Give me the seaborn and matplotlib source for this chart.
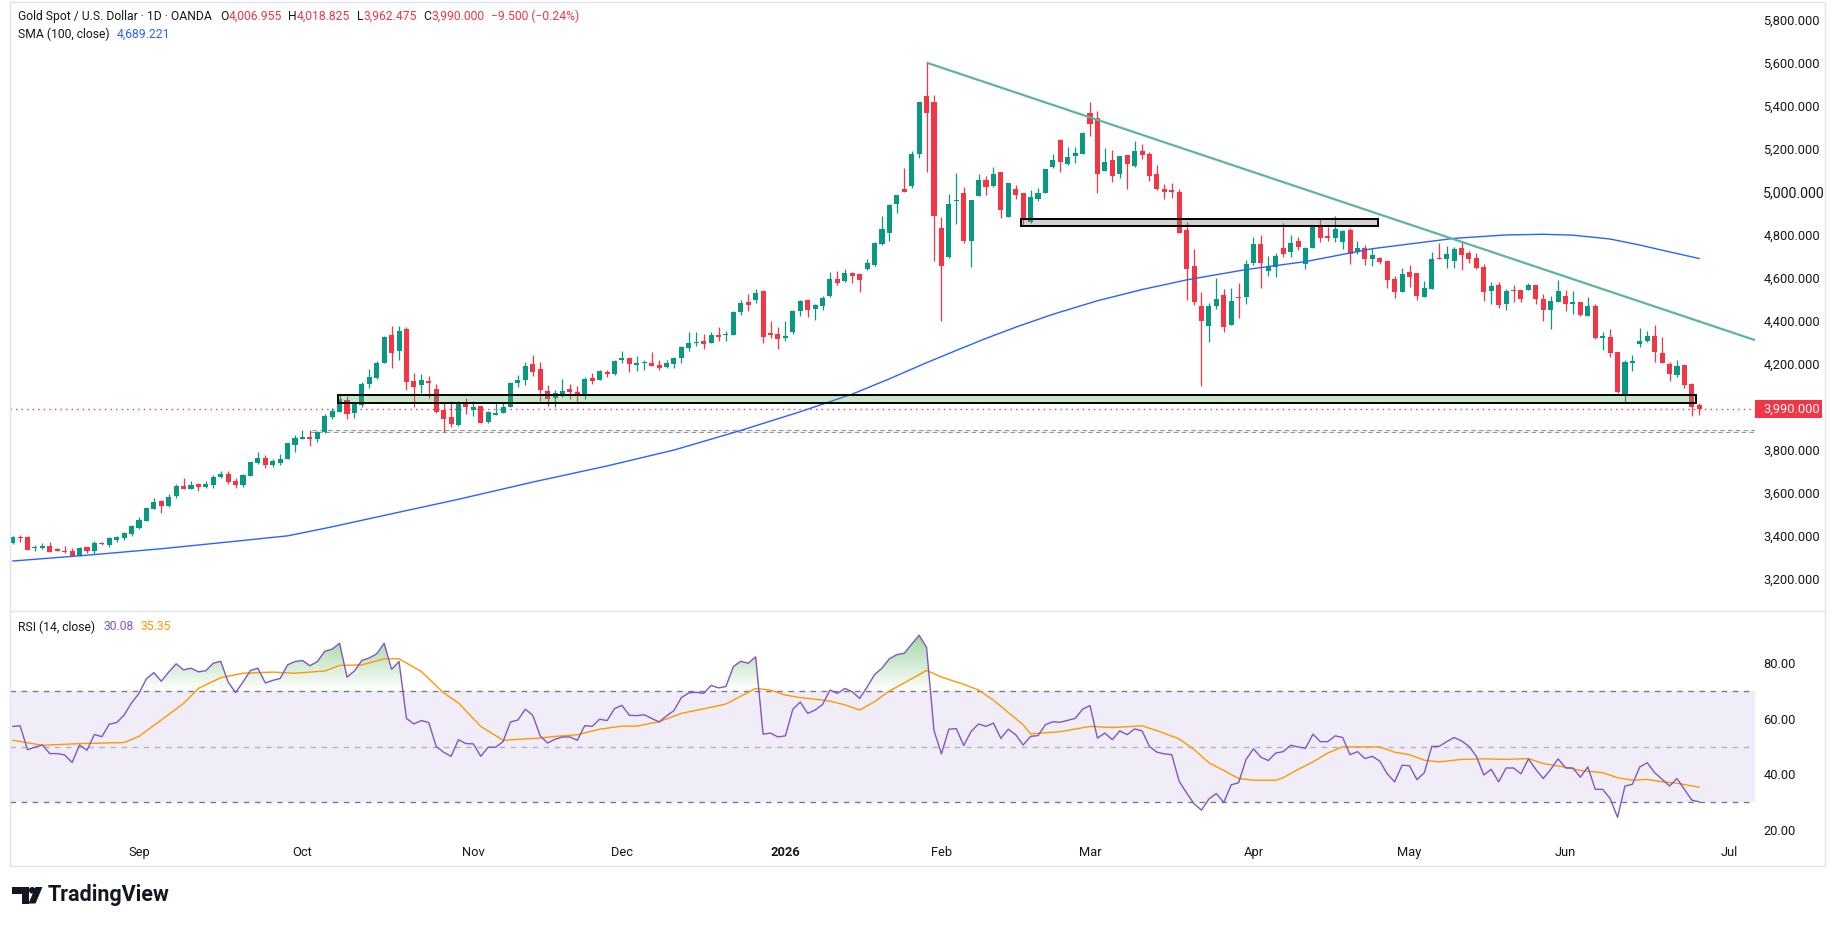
import numpy as np
import pandas as pd
import matplotlib.pyplot as plt
import seaborn as sns
from matplotlib.patches import Rectangle, PathPatch, Circle, Polygon
from matplotlib.path import Path
from matplotlib.transforms import blended_transform_factory

sns.set_theme(style='white')
plt.rcParams['font.family'] = ['Roboto', 'DejaVu Sans']

# 日线K线
opens = [
    3365, 3393, 3394, 3342, 3343, 3353, 3336, 3329, 3329, 3308,
    3348, 3331, 3368, 3357, 3380, 3388, 3408, 3436, 3470, 3526,
    3560, 3539, 3585, 3632, 3618, 3641, 3628, 3636, 3673, 3687,
    3655, 3636, 3680, 3737, 3762, 3729, 3739, 3759, 3824, 3852,
    3861, 3852, 3884, 3952, 3977, 4032, 3973, 4010, 4107, 4135,
    4205, 4334, 4261, 4362, 4120, 4103, 4120, 4083, 3985, 3952,
    3915, 4021, 3985, 4004, 3931, 3963, 3973, 4000, 4112, 4126,
    4199, 4176, 4073, 4042, 4059, 4083, 4069, 4059, 4134, 4124,
    4163, 4152, 4217, 4228, 4196, 4202, 4204, 4194, 4187, 4200,
    4225, 4275, 4295, 4306, 4298, 4334, 4332, 4335, 4442, 4487,
    4498, 4538, 4338, 4338, 4321, 4349, 4447, 4496, 4456, 4470,
    4517, 4594, 4586, 4622, 4617, 4642, 4661, 4758, 4809, 4944,
    5011, 5028, 5175, 5445, 5419, 4830, 4696, 4955, 4992, 4772,
    4981, 5054, 5026, 5091, 4884, 5011, 4995, 4860, 4966, 4995,
    5113, 5240, 5129, 5166, 5175, 5367, 5344, 5098, 5147, 5082,
    5171, 5119, 5191, 5175, 5082, 5012, 5008, 5000, 4822, 4654,
    4469, 4375, 4469, 4520, 4380, 4509, 4512, 4670, 4757, 4633,
    4648, 4737, 4721, 4771, 4664, 4738, 4845, 4794, 4786, 4766,
    4822, 4721, 4737, 4687, 4693, 4678, 4594, 4535, 4627, 4622,
    4512, 4546, 4690, 4687, 4679, 4738, 4715, 4692, 4651, 4540,
    4566, 4479, 4541, 4543, 4543, 4566, 4501, 4450, 4489, 4515,
    4479, 4489, 4424, 4470, 4322, 4323, 4256, 4055, 4202, 4292,
    4306, 4329, 4252, 4199, 4148, 4193, 4106, 4006.955,
]
highs = [
    3400, 3404, 3399, 3357, 3365, 3371, 3345, 3353, 3345, 3348,
    3348, 3377, 3373, 3394, 3399, 3418, 3450, 3486, 3534, 3576,
    3565, 3594, 3641, 3669, 3655, 3646, 3653, 3681, 3701, 3700,
    3667, 3686, 3745, 3790, 3774, 3756, 3779, 3833, 3867, 3892,
    3892, 3887, 3966, 3993, 4053, 4052, 4021, 4115, 4174, 4213,
    4331, 4376, 4376, 4369, 4155, 4152, 4143, 4106, 4019, 4027,
    4027, 4039, 4027, 4004, 3980, 4021, 4022, 4117, 4146, 4208,
    4241, 4208, 4100, 4078, 4129, 4106, 4097, 4137, 4157, 4171,
    4171, 4217, 4259, 4233, 4236, 4217, 4256, 4217, 4217, 4230,
    4283, 4348, 4348, 4337, 4347, 4371, 4354, 4445, 4496, 4524,
    4547, 4543, 4399, 4371, 4399, 4450, 4496, 4500, 4478, 4515,
    4626, 4631, 4640, 4625, 4620, 4687, 4765, 4887, 4941, 4985,
    5112, 5191, 5418, 5600, 5450, 4884, 4989, 5085, 5023, 4961,
    5082, 5073, 5116, 5091, 5042, 5031, 4995, 5008, 5016, 5105,
    5175, 5243, 5209, 5209, 5279, 5418, 5375, 5205, 5194, 5166,
    5171, 5236, 5220, 5186, 5124, 5036, 5039, 5011, 4861, 4732,
    4535, 4481, 4597, 4546, 4551, 4574, 4682, 4788, 4799, 4701,
    4717, 4853, 4799, 4788, 4744, 4840, 4871, 4837, 4887, 4822,
    4830, 4771, 4752, 4737, 4698, 4678, 4608, 4647, 4659, 4622,
    4585, 4720, 4763, 4747, 4744, 4772, 4724, 4716, 4664, 4582,
    4582, 4547, 4566, 4543, 4577, 4566, 4524, 4517, 4589, 4543,
    4538, 4489, 4509, 4478, 4349, 4362, 4256, 4217, 4241, 4365,
    4354, 4380, 4323, 4210, 4217, 4194, 4109, 4018.825,
]
lows = [
    3362, 3373, 3334, 3331, 3339, 3325, 3329, 3318, 3306, 3306,
    3320, 3315, 3357, 3350, 3373, 3382, 3401, 3432, 3467, 3523,
    3508, 3534, 3576, 3618, 3618, 3608, 3624, 3624, 3669, 3642,
    3624, 3628, 3678, 3734, 3717, 3722, 3731, 3757, 3790, 3852,
    3819, 3838, 3880, 3942, 3974, 3942, 3946, 4000, 4089, 4131,
    4202, 4182, 4217, 4078, 3999, 4066, 4042, 3969, 3883, 3907,
    3912, 3966, 3959, 3926, 3926, 3963, 3973, 4000, 4093, 4101,
    4143, 4028, 4005, 3997, 4047, 4036, 4021, 4036, 4106, 4124,
    4138, 4149, 4202, 4163, 4166, 4172, 4191, 4171, 4179, 4179,
    4202, 4261, 4283, 4270, 4295, 4307, 4307, 4332, 4428, 4447,
    4484, 4298, 4321, 4270, 4307, 4340, 4423, 4419, 4405, 4451,
    4510, 4568, 4580, 4577, 4535, 4635, 4656, 4750, 4772, 4899,
    4999, 5016, 5155, 5093, 4679, 4400, 4693, 4848, 4760, 4651,
    4981, 4985, 5020, 4876, 4884, 4964, 4840, 4855, 4958, 4995,
    5108, 5093, 5124, 5132, 5175, 5259, 4992, 5098, 5047, 5062,
    5011, 5116, 5150, 5051, 5008, 4966, 4969, 4806, 4496, 4473,
    4098, 4303, 4453, 4349, 4380, 4414, 4478, 4659, 4554, 4608,
    4605, 4698, 4698, 4729, 4641, 4738, 4768, 4772, 4768, 4732,
    4664, 4710, 4659, 4655, 4664, 4554, 4507, 4535, 4558, 4496,
    4512, 4546, 4687, 4647, 4647, 4636, 4667, 4641, 4493, 4478,
    4461, 4450, 4489, 4489, 4543, 4478, 4400, 4362, 4487, 4447,
    4431, 4424, 4424, 4314, 4264, 4233, 4066, 4024, 4168, 4279,
    4303, 4210, 4202, 4121, 4140, 4089, 3959, 3962.475,
]
closes = [
    3396, 3390, 3336, 3345, 3354, 3326, 3331, 3325, 3308, 3343,
    3331, 3367, 3362, 3390, 3394, 3413, 3446, 3474, 3529, 3557,
    3539, 3580, 3630, 3619, 3635, 3628, 3641, 3673, 3687, 3650,
    3636, 3681, 3742, 3762, 3731, 3746, 3757, 3832, 3855, 3861,
    3852, 3884, 3957, 3980, 4036, 3966, 4013, 4106, 4138, 4205,
    4326, 4248, 4352, 4117, 4094, 4124, 4109, 3977, 3945, 3921,
    4022, 3997, 3997, 3926, 3977, 3971, 3999, 4112, 4126, 4191,
    4163, 4078, 4036, 4062, 4073, 4069, 4055, 4129, 4120, 4165,
    4154, 4213, 4228, 4200, 4199, 4207, 4191, 4180, 4204, 4225,
    4278, 4297, 4303, 4292, 4334, 4324, 4335, 4441, 4482, 4473,
    4529, 4326, 4335, 4316, 4329, 4445, 4492, 4451, 4473, 4506,
    4594, 4577, 4622, 4610, 4591, 4668, 4761, 4826, 4937, 4985,
    5000, 5175, 5415, 5364, 4888, 4656, 4943, 4960, 4771, 4961,
    5054, 5020, 5082, 4915, 5042, 4985, 4868, 4975, 4992, 5105,
    5147, 5140, 5163, 5178, 5274, 5315, 5082, 5140, 5073, 5166,
    5129, 5191, 5171, 5073, 5012, 5000, 5000, 4806, 4640, 4489,
    4400, 4469, 4500, 4372, 4493, 4505, 4664, 4757, 4670, 4648,
    4701, 4710, 4760, 4744, 4738, 4840, 4786, 4786, 4825, 4817,
    4710, 4738, 4687, 4706, 4673, 4589, 4535, 4617, 4605, 4517,
    4554, 4687, 4687, 4710, 4734, 4707, 4685, 4645, 4535, 4561,
    4473, 4538, 4538, 4503, 4566, 4503, 4450, 4492, 4538, 4479,
    4481, 4427, 4470, 4318, 4325, 4252, 4070, 4207, 4214, 4306,
    4329, 4256, 4202, 4152, 4190, 4101, 3999.5, 3990.0,
]

# SMA(100) 读数 (K线序号, 数值)
sma_idx = [0, 10, 20, 30, 37, 43, 50, 60, 70, 80, 89, 98, 106, 113, 118, 123,
           127, 131, 135, 140, 146, 152, 158, 166, 174, 183, 194, 201, 206, 210,
           215, 219, 222, 227]
sma_val = [3283, 3310, 3340, 3375, 3400, 3442, 3495, 3570, 3650, 3725, 3799, 3890,
           3977, 4059, 4130, 4205, 4262, 4318, 4370, 4430, 4493, 4545, 4590, 4638,
           4675, 4735, 4783, 4799, 4802, 4798, 4780, 4752, 4728, 4689.221]

# RSI(14)
rsi = [
    57.3, 57.5, 48.9, 49.8, 50.6, 47.5, 47.5, 47.0, 44.3, 50.6,
    48.7, 54.4, 53.6, 58.1, 58.7, 61.4, 65.8, 69.2, 74.5, 76.7,
    73.6, 76.9, 79.9, 77.7, 78.3, 77.0, 77.4, 80.1, 80.8, 73.3,
    69.5, 73.3, 77.5, 78.3, 73.0, 73.9, 74.6, 79.5, 80.7, 81.1,
    79.2, 80.7, 84.4, 85.2, 87.3, 75.1, 77.3, 81.1, 82.0, 83.5,
    87.3, 77.9, 80.7, 60.2, 58.2, 59.4, 58.7, 50.1, 48.0, 46.5,
    52.5, 51.1, 51.0, 46.5, 49.8, 49.8, 51.8, 58.9, 59.6, 63.5,
    61.3, 53.9, 51.3, 52.7, 53.5, 53.5, 52.3, 57.6, 57.3, 59.9,
    59.4, 63.7, 64.9, 61.3, 61.2, 61.5, 60.2, 58.9, 61.1, 63.0,
    67.7, 69.4, 69.6, 69.2, 72.1, 71.2, 71.7, 78.9, 80.8, 80.1,
    82.4, 54.5, 54.9, 53.5, 53.9, 63.5, 66.1, 62.0, 63.2, 65.2,
    70.4, 69.2, 71.0, 69.8, 67.4, 71.5, 76.0, 78.3, 81.7, 83.2,
    83.7, 87.0, 90.2, 85.8, 55.8, 47.4, 56.3, 56.5, 50.4, 55.5,
    58.2, 57.3, 58.5, 53.0, 56.3, 54.3, 50.6, 53.7, 54.0, 57.9,
    59.0, 58.8, 59.5, 60.2, 63.5, 64.8, 53.1, 54.9, 52.5, 55.7,
    54.3, 56.4, 55.7, 50.1, 48.0, 47.4, 47.1, 37.5, 33.3, 29.4,
    27.1, 31.1, 33.1, 29.9, 36.2, 37.0, 45.4, 49.2, 46.2, 45.0,
    47.7, 48.2, 50.5, 49.9, 49.4, 54.5, 51.8, 51.8, 53.9, 53.3,
    47.1, 48.2, 45.7, 46.5, 44.8, 40.2, 37.3, 43.3, 43.1, 38.1,
    40.6, 50.1, 50.1, 51.8, 53.3, 52.1, 50.1, 46.5, 39.8, 41.8,
    37.3, 42.3, 42.3, 40.2, 45.6, 41.8, 38.5, 41.8, 45.6, 42.3,
    42.3, 39.0, 42.7, 34.6, 34.6, 31.3, 24.5, 35.8, 36.4, 42.7,
    44.2, 40.6, 38.2, 35.8, 38.5, 34.6, 30.7, 30.08,
]
# RSI 均线读数
rsi_ma_idx = [0, 4, 9, 15, 17, 20, 23, 25, 28, 31, 35, 38, 42, 44, 47, 50, 52, 55, 58, 60,
              63, 66, 71, 73, 76, 79, 82, 84, 87, 90, 94, 96, 98, 100, 102, 104, 106, 109, 110, 112,
              114, 116, 118, 120, 123, 125, 128, 130, 132, 134, 136, 137, 141, 145, 148, 152, 154, 157, 159, 161,
              163, 165, 167, 170, 171, 173, 175, 177, 179, 181, 184, 186, 188, 190, 192, 195, 198, 201, 204, 206,
              209, 211, 214, 216, 218, 220, 222, 224, 227]
rsi_ma = [52.3, 50.5, 51.1, 51.5, 53.7, 59.6, 65.6, 71.0, 74.9, 76.5, 76.9, 76.5, 77.3, 79.3, 79.5, 81.7, 81.7, 77.1, 69.4, 65.8,
          57.3, 52.3, 53.1, 53.7, 54.3, 56.3, 57.4, 57.4, 59.0, 62.0, 64.2, 65.4, 68.2, 71.0, 70.4, 68.6, 67.7, 66.8, 66.4, 65.1,
          63.2, 66.2, 70.1, 73.0, 77.5, 75.1, 72.5, 70.4, 66.8, 62.3, 57.9, 54.6, 55.4, 57.3, 56.9, 57.5, 55.8, 52.8, 49.0, 44.2,
          41.4, 38.5, 37.9, 37.9, 38.8, 41.8, 44.5, 47.7, 49.9, 49.9, 49.9, 48.0, 47.1, 45.1, 44.5, 45.4, 45.6, 45.4, 45.7, 43.9,
          42.6, 41.4, 40.6, 38.8, 37.9, 38.2, 37.3, 36.8, 35.35]

# 画线工具
trend_end = (234.5, 4310)
grey_zone = (135.7, 183.7, 4839, 4872)
green_zone = (43.8, 226.6, 4019, 4053)
dash_zone = (40.0, 234.5, 3881, 3892)

holidays = ['2025-12-25', '2026-01-01', '2026-04-03']
days = pd.bdate_range('2025-08-07', '2026-07-01')
days = days[~days.isin(pd.to_datetime(holidays))]

o, h, l, c = map(np.array, (opens, highs, lows, closes))
n = len(c)
x = np.arange(n)

W, H = 1835, 926
fig = plt.figure(figsize=(W / 100, H / 100), dpi=100)
fig.patch.set_facecolor('white')


def frect(x0, y0, x1, y1):
    return [x0 / W, 1 - y1 / H, (x1 - x0) / W, (y1 - y0) / H]


ax_p = fig.add_axes(frect(10, 6, 1755, 610))
ax_r = fig.add_axes(frect(10, 611, 1755, 842))
ov = fig.add_axes([0, 0, 1, 1], zorder=10)
ov.set_xlim(0, W)
ov.set_ylim(H, 0)
ov.axis('off')
ov.patch.set_alpha(0)

UP, DN, INK = '#089981', '#f23645', '#131722'
XLIM = (-0.36, 234.5)

# ---- 价格区 ----
cols = np.where(c >= o, UP, DN)
ax_p.vlines(x, l, h, colors=cols, lw=0.9, zorder=3)
ax_p.bar(x, np.maximum(np.abs(c - o), 6), bottom=np.minimum(o, c), width=0.68,
         color=cols, linewidth=0, zorder=3)

sns.lineplot(x=sma_idx, y=sma_val, ax=ax_p, color='#2962ff', linewidth=1.0,
             estimator=None, zorder=4)

peak = int(np.argmax(h))
ax_p.plot([peak, trend_end[0]], [h[peak], trend_end[1]], color='#5cb5a0', lw=1.6,
          solid_capstyle='butt', zorder=6)

gx0, gx1, gy0, gy1 = grey_zone
ax_p.add_patch(Rectangle((gx0, gy0), gx1 - gx0, gy1 - gy0, fc=(0.5, 0.5, 0.5, 0.35),
                         ec='black', lw=1.4, zorder=5))
gx0, gx1, gy0, gy1 = green_zone
ax_p.add_patch(Rectangle((gx0, gy0), gx1 - gx0, gy1 - gy0, fc=(76 / 255, 175 / 255, 80 / 255, 0.3),
                         ec='black', lw=1.4, zorder=5))
gx0, gx1, gy0, gy1 = dash_zone
ax_p.add_patch(Rectangle((gx0, gy0), gx1 - gx0, gy1 - gy0, fc=(76 / 255, 175 / 255, 80 / 255, 0.08),
                         ec='#9598a1', lw=0.8, ls=(0, (4, 3)), zorder=2))

ax_p.axhline(c[-1], color=DN, lw=1.0, ls=(0, (1, 3)), zorder=2)

ax_p.set_xlim(*XLIM)
ax_p.set_ylim(3055.3, 5863.3)
ax_p.set_xticks([])
ax_p.yaxis.tick_right()
pticks = np.arange(3200, 5801, 200)
ax_p.set_yticks(pticks)
ax_p.set_yticklabels([f'{v:,.3f}' for v in pticks])
ax_p.tick_params(axis='y', length=0, pad=6, labelsize=9.3, labelcolor=INK)
for lab in ax_p.get_yticklabels():
    if lab.get_text() == '5,000.000':
        lab.set_fontsize(10.2)
ax_p.set_xlabel('')
ax_p.set_ylabel('')

# 最新价标签
bt = blended_transform_factory(ax_p.transAxes, ax_p.transData)
ax_p.add_patch(Rectangle((1.0, c[-1] - 40), 67 / 1745, 80, transform=bt, fc=DN, ec='none',
                         clip_on=False, zorder=7))
ax_p.text(1.0046, c[-1], f'{c[-1]:,.3f}', transform=bt, color='white', fontsize=9.3,
          va='center', ha='left', clip_on=False, zorder=8)

# ---- RSI 区 ----
ax_r.axhspan(30, 70, color='#7e57c2', alpha=0.1, lw=0, zorder=0)
for lvl, a in ((70, 1.0), (50, 0.5), (30, 1.0)):
    ax_r.axhline(lvl, color='#787b86', lw=1.0, ls=(0, (4, 4)), alpha=a, zorder=1)

r = np.array(rsi)
fb = ax_r.fill_between(x, r, 70, where=r >= 70, interpolate=True, facecolor='none',
                       edgecolor='none')
paths = fb.get_paths()
if paths:
    clip = PathPatch(Path.make_compound_path(*paths), transform=ax_r.transData,
                     facecolor='none', edgecolor='none')
    ax_r.add_patch(clip)
    grad = np.zeros((256, 1, 4))
    grad[..., 0], grad[..., 1], grad[..., 2] = 76 / 255, 175 / 255, 80 / 255
    grad[:, 0, 3] = np.linspace(0.0, 0.6, 256)
    im = ax_r.imshow(grad, extent=[XLIM[0], XLIM[1], 70, 93], origin='lower',
                     aspect='auto', zorder=2)
    im.set_clip_path(clip)

sns.lineplot(x=rsi_ma_idx, y=rsi_ma, ax=ax_r, color='#ff9800', linewidth=1.0,
             estimator=None, zorder=3)
sns.lineplot(x=x, y=rsi, ax=ax_r, color='#7e57c2', linewidth=1.0, estimator=None, zorder=4)

ax_r.set_xlim(*XLIM)
ax_r.set_ylim(15.6, 98.94)
ax_r.yaxis.tick_right()
ax_r.set_yticks([20, 40, 60, 80])
ax_r.set_yticklabels([f'{v:.2f}' for v in (20, 40, 60, 80)])
ax_r.tick_params(axis='y', length=0, pad=6, labelsize=9.3, labelcolor=INK)
mpos = [i for i in range(1, len(days)) if days[i].month != days[i - 1].month]
mlab = ['2026' if days[i].month == 1 else days[i].strftime('%b') for i in mpos]
ax_r.set_xticks(mpos)
ax_r.set_xticklabels(mlab)
ax_r.tick_params(axis='x', length=0, pad=3, labelsize=9.3, labelcolor=INK)
for lab in ax_r.get_xticklabels():
    if lab.get_text() == '2026':
        lab.set_fontweight('bold')
ax_r.set_xlabel('')
ax_r.set_ylabel('')

for ax in (ax_p, ax_r):
    for sp in ax.spines.values():
        sp.set_visible(False)

# ---- 边框 ----
ov.add_patch(Rectangle((10, 2), 1815, 864, fill=False, ec='#e0e3eb', lw=1.0))
ov.plot([10, 1825], [610.5, 610.5], color='#e0e3eb', lw=1.0)


def chain(x0, y0, parts, size):
    t = ov.text(x0, y0, parts[0][0], color=parts[0][1], fontsize=size, va='center', ha='left')
    for s, col, gap in parts[1:]:
        t = ov.annotate(s, xy=(1, 0.5), xycoords=t, xytext=(gap, 0), textcoords='offset pixels',
                        color=col, fontsize=size, va='center', ha='left')
    return t


chg = c[-1] - c[-2]
pct = chg / c[-2] * 100
chain(18, 16.5, [
    ('Gold Spot / U.S. Dollar · 1D · OANDA', INK),
    ('O', INK, 8), (f'{o[-1]:,.3f}', DN, 0),
    ('H', INK, 6), (f'{h[-1]:,.3f}', DN, 0),
    ('L', INK, 7), (f'{l[-1]:,.3f}', DN, 0),
    ('C', INK, 7), (f'{c[-1]:,.3f}', DN, 0),
    (f'{chg:,.3f} ({pct:.2f}%)'.replace('-', '\u2212'), DN, 6),
], 8.7)
chain(18, 34, [('SMA (100, close)', INK), (f'{sma_val[-1]:,.3f}', '#2962ff', 7)], 8.7)
chain(18, 627, [('RSI (14, close)', INK), (f'{rsi[-1]:.2f}', '#7e57c2', 8),
                (f'{rsi_ma[-1]:.2f}', '#ff9800', 7)], 8.7)

# TradingView 标志
ov.add_patch(Polygon([(11.5, 887), (28.7, 887), (28.7, 903.5), (21.5, 903.5), (21.5, 893.5), (11.5, 893.5)],
                     closed=True, fc=INK, ec='none'))
ov.add_patch(Circle((32.2, 890.3), 3.3, fc=INK, ec='none'))
ov.add_patch(Polygon([(35.5, 887), (42.5, 887), (35.5, 903.5), (28.5, 903.5)], closed=True,
                     fc=INK, ec='none'))
ov.text(48, 895.5, 'TradingView', fontsize=15.5, fontweight='bold', color=INK, va='center', ha='left')

fig.savefig('out.png', dpi=100, facecolor='white')
